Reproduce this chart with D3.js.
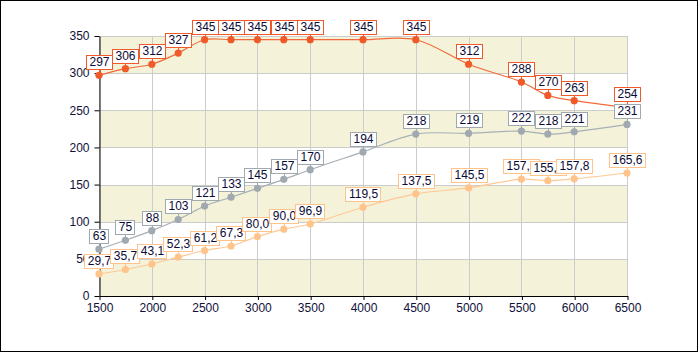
<!DOCTYPE html>
<html>
<head>
<meta charset="utf-8">
<script src="https://cdn.jsdelivr.net/npm/d3@7"></script>
<style>
  body { margin: 0; background: #fff; }
  svg { display: block; font-family: Arial, "Liberation Sans", sans-serif; }
</style>
</head>
<body>
<div id="chart"></div>
<script>
// data
var xValues = [1500, 1750, 2000, 2250, 2500, 2750, 3000, 3250, 3500, 4000, 4500, 5000, 5500, 5750, 6000, 6500];
var redValues = [297, 306, 312, 327, 345, 345, 345, 345, 345, 345, 345, 312, 288, 270, 263, 254];
var grayValues = [63, 75, 88, 103, 121, 133, 145, 157, 170, 194, 218, 219, 222, 218, 221, 231];
var orangeValues = [29.7, 35.7, 43.1, 52.3, 61.2, 67.3, 80.0, 90.0, 96.9, 119.5, 137.5, 145.5, 157.2, 155.2, 157.8, 165.6];
var xTicks = [1500, 2000, 2500, 3000, 3500, 4000, 4500, 5000, 5500, 6000, 6500];
var yTicks = [0, 50, 100, 150, 200, 250, 300, 350];
var bands = [[0, 50], [100, 150], [200, 250], [300, 350]];

var totalW = 698, totalH = 352;
var margin = {top: 36, right: 71, bottom: 56, left: 99},
    width = totalW - margin.left - margin.right,
    height = totalH - margin.top - margin.bottom;

var svg = d3.select("#chart")
  .append("svg")
    .attr("width", totalW)
    .attr("height", totalH);

// outer frame
svg.append("rect")
  .attr("x", 0.5).attr("y", 0.5)
  .attr("width", totalW - 1).attr("height", totalH - 1)
  .attr("fill", "#fff")
  .attr("stroke", "#000");

var g = svg.append("g")
  .attr("transform", "translate(" + margin.left + "," + margin.top + ")");

var x = d3.scaleLinear().domain([1500, 6500]).range([0, width]);
var y = d3.scaleLinear().domain([0, 350]).range([height, 0]);

function px(v) { return Math.round(v) + 0.5; }

// beige bands
g.append("g")
  .selectAll("rect")
  .data(bands)
  .enter()
  .append("rect")
    .attr("x", 0)
    .attr("width", width)
    .attr("y", function(d) { return Math.round(y(d[1])); })
    .attr("height", function(d) { return Math.round(y(d[0])) - Math.round(y(d[1])); })
    .attr("fill", "#f4f3da");

// grid
g.append("g")
  .selectAll("line")
  .data(xTicks)
  .enter()
  .append("line")
    .attr("x1", function(d) { return px(x(d)); })
    .attr("x2", function(d) { return px(x(d)); })
    .attr("y1", 0).attr("y2", height)
    .attr("stroke", "#cccccc");

g.append("g")
  .selectAll("line")
  .data(yTicks)
  .enter()
  .append("line")
    .attr("x1", 0).attr("x2", width)
    .attr("y1", function(d) { return px(y(d)); })
    .attr("y2", function(d) { return px(y(d)); })
    .attr("stroke", "#cccccc");

// axes
var xAxis = g.append("g")
  .attr("transform", "translate(0," + (Math.round(height) + 0.5) + ")")
  .call(d3.axisBottom(x).tickValues(xTicks).tickSize(4).tickSizeOuter(0).tickPadding(3).tickFormat(d3.format("d")))
  .attr("transform", "translate(0.5," + Math.round(height) + ")");

var yAxis = g.append("g")
  .call(d3.axisLeft(y).tickValues(yTicks).tickSize(5).tickSizeOuter(0).tickPadding(5).tickFormat(d3.format("d")))
  .attr("transform", "translate(0.5,0)");

[xAxis, yAxis].forEach(function(a) {
  a.selectAll("path, line").attr("stroke", "#000");
  a.selectAll("text").attr("fill", "#10103a").style("font-size", "12px").style("font-family", "Arial, 'Liberation Sans', sans-serif");
});

var series = [
  {values: redValues, line: "#f26a3c", dot: "#f05a28", box: "#f05a28", fmt: d3.format("d")},
  {values: grayValues, line: "#a7afb7", dot: "#a0a8b0", box: "#a0a8b0", fmt: d3.format("d")},
  {values: orangeValues, line: "#ffc894", dot: "#ffc48c", box: "#ffc48c", fmt: function(v) { return v.toFixed(1).replace(".", ","); }}
];

var line = d3.line()
  .x(function(d) { return x(d[0]); })
  .y(function(d) { return y(d[1]); })
  .curve(d3.curveCatmullRom.alpha(0.5));

// lines and dots
series.forEach(function(s) {
  var pts = xValues.map(function(xv, i) { return [xv, s.values[i]]; });
  g.append("path")
    .datum(pts)
    .attr("fill", "none")
    .attr("stroke", s.line)
    .attr("stroke-width", 1.2)
    .attr("d", line);
  g.append("g")
    .selectAll("circle")
    .data(pts)
    .enter()
    .append("circle")
      .attr("cx", function(d) { return x(d[0]); })
      .attr("cy", function(d) { return y(d[1]); })
      .attr("r", 3.6)
      .attr("fill", s.dot);
});

// value labels
series.forEach(function(s) {
  var pts = xValues.map(function(xv, i) { return [xv, s.values[i]]; });
  var lab = g.append("g")
    .selectAll("g")
    .data(pts)
    .enter()
    .append("g")
      .attr("transform", function(d) { return "translate(" + Math.round(x(d[0])) + "," + Math.round(y(d[1])) + ")"; });

  lab.append("line")
    .attr("x1", 0.5).attr("x2", 0.5)
    .attr("y1", -6).attr("y2", 0)
    .attr("stroke", s.box);

  lab.each(function(d) {
    var el = d3.select(this);
    var t = el.append("text")
      .attr("text-anchor", "middle")
      .attr("x", 0.5)
      .attr("y", -9.5)
      .attr("fill", "#0a0a36")
      .style("font-size", "12px")
      .text(s.fmt(d[1]));
    var w = t.node().getComputedTextLength() + 6;
    el.insert("rect", "text")
      .attr("x", Math.round(-w / 2) + 0.5)
      .attr("y", -19.5)
      .attr("width", Math.round(w))
      .attr("height", 14)
      .attr("fill", "#fff")
      .attr("stroke", s.box);
  });
});
</script>
</body>
</html>
